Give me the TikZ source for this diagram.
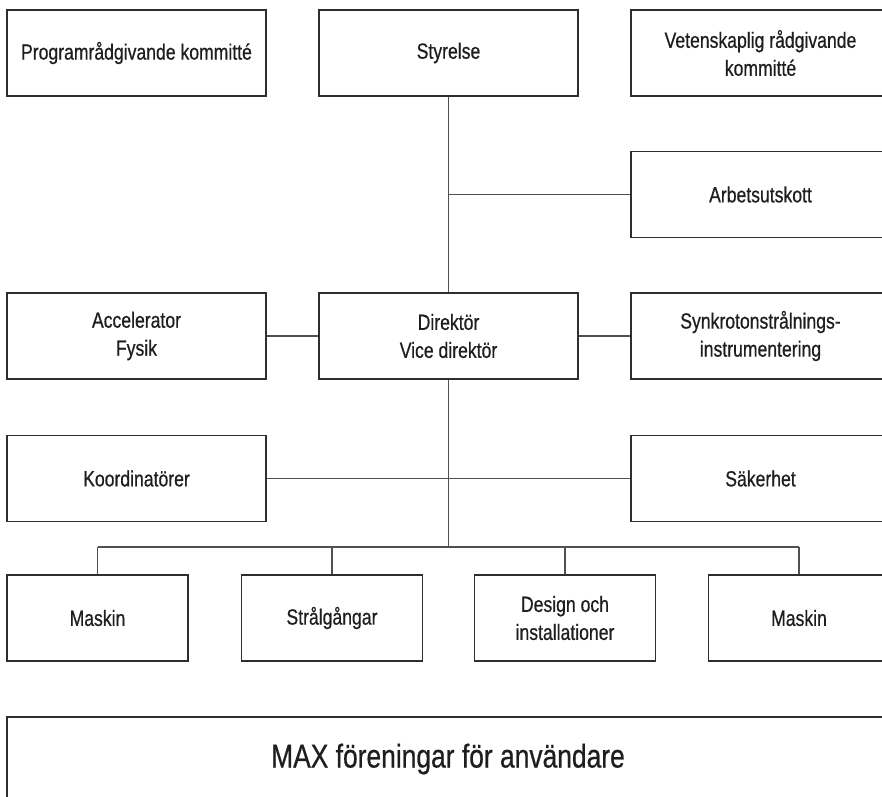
\documentclass[tikz,border=0pt]{standalone}
\usepackage{fontspec}
\setmainfont{Liberation Sans}[FakeStretch=0.8,FakeBold=0.6]
\definecolor{boxline}{HTML}{2E2E2E}
\definecolor{conline}{HTML}{505050}
\definecolor{textcol}{HTML}{1E1E1E}
\begin{document}
\begin{tikzpicture}[x=1pt,y=-1pt,
  unit/.style={draw=boxline, line width=1.6pt, text=textcol, align=center,
    minimum width=259pt, minimum height=86pt, inner sep=0pt,
    font=\fontsize{22}{28}\selectfont},
  small/.style={unit, minimum width=181pt},
  link/.style={draw=conline, line width=1.6pt}]
\useasboundingbox (0,0) rectangle (882,796);
\clip (0,0) rectangle (882,796);
\node[unit] (prog) at (136.5,53) {Programrådgivande kommitté};
\node[unit] (styr) at (448.5,53) {Styrelse};
\node[unit] (vet) at (760.5,53) {Vetenskaplig rådgivande\\kommitté};
\node[unit] (arb) at (760.5,194.5) {Arbetsutskott};
\node[unit] (acc) at (136.5,336) {Accelerator\\Fysik};
\node[unit] (dir) at (448.5,336) {Direktör\\Vice direktör};
\node[unit] (syn) at (760.5,336) {Synkrotonstrålnings-\\instrumentering};
\node[unit] (koord) at (136.5,478.5) {Koordinatörer};
\node[unit] (sak) at (760.5,478.5) {Säkerhet};
\node[small] (mask1) at (97.5,618) {Maskin};
\node[small] (stral) at (332,618) {Strålgångar};
\node[small] (design) at (565,618) {Design och\\installationer};
\node[small] (mask2) at (799,618) {Maskin};
\node[unit, minimum width=882pt, minimum height=84pt,
  font=\fontsize{33}{38}\selectfont] (max) at (448,759) {\raisebox{6pt}{MAX föreningar för användare}};
\coordinate (bus) at (448.5,547);
\draw[link] (styr.south)--(dir.north);
\draw[link] (styr.south |- arb.west)--(arb.west);
\draw[link] (acc.east)--(dir.west);
\draw[link] (dir.east)--(syn.west);
\draw[link] (dir.south)--(bus);
\draw[link] (koord.east)--(sak.west);
\draw[link] (mask1.north |- bus)--(mask2.north |- bus);
\foreach \b in {mask1,stral,design,mask2}
  \draw[link] (\b.north)--(\b.north |- bus);
\end{tikzpicture}
\end{document}
